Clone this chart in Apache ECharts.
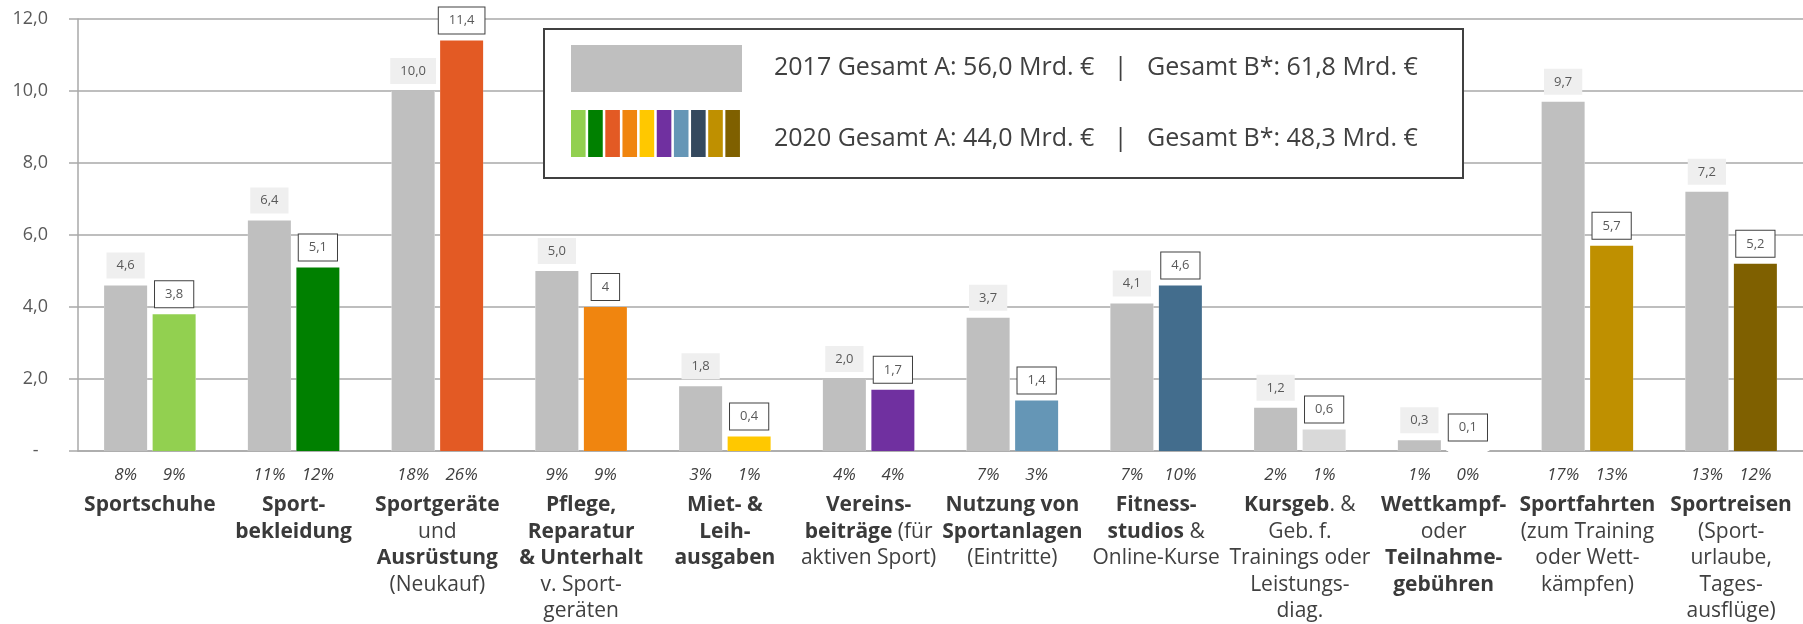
<!DOCTYPE html>
<html>
<head>
<meta charset="utf-8">
<script src="https://cdn.jsdelivr.net/npm/echarts@6/dist/echarts.min.js"></script>
<style>
html,body{margin:0;padding:0;background:#fff;}
#chart{width:1803px;height:624px;}
</style>
</head>
<body>
<div id="chart"></div>
<script>
// ---- data ----
const categories = ['Sportschuhe','Sportbekleidung','Sportgeräte und Ausrüstung','Pflege, Reparatur & Unterhalt','Miet- & Leihausgaben','Vereinsbeiträge','Nutzung von Sportanlagen','Fitnessstudios & Online-Kurse','Kursgebühren','Wettkampf-/Teilnahmegebühren','Sportfahrten','Sportreisen'];
const categoryLabels = [
  '**Sportschuhe**',
  '**Sport-**\n**bekleidung**',
  '**Sportgeräte**\nund\n**Ausrüstung**\n(Neukauf)',
  '**Pflege,**\n**Reparatur**\n**& Unterhalt**\nv. Sport-\ngeräten',
  '**Miet- &**\n**Leih-**\n**ausgaben**',
  '**Vereins-**\n**beiträge** (für\naktiven Sport)',
  '**Nutzung von**\n**Sportanlagen**\n(Eintritte)',
  '**Fitness-**\n**studios** &\nOnline-Kurse',
  '**Kursgeb**. &\nGeb. f.\nTrainings oder\nLeistungs-\ndiag.',
  '**Wettkampf-**\noder\n**Teilnahme-**\n**gebühren**',
  '**Sportfahrten**\n(zum Training\noder Wett-\nkämpfen)',
  '**Sportreisen**\n(Sport-\nurlaube,\nTages-\nausflüge)'
];
const values2017 = [4.6, 6.4, 10.0, 5.0, 1.8, 2.0, 3.7, 4.1, 1.2, 0.3, 9.7, 7.2];
const values2020 = [3.8, 5.1, 11.4, 4, 0.4, 1.7, 1.4, 4.6, 0.6, 0.1, 5.7, 5.2];
const share2017 = [8, 11, 18, 9, 3, 4, 7, 7, 2, 1, 17, 13];
const share2020 = [9, 12, 26, 9, 1, 4, 3, 10, 1, 0, 13, 12];
const color2017 = '#bfbfbf';
const colors2020 = ['#92d050','#008000','#e35a24','#f0850f','#ffc800','#7030a0','#6596b6','#436d8d','#d9d9d9','#ffffff','#bf9000','#7f6000'];
const legendStripes = ['#92d050','#008000','#e35a24','#f0850f','#ffc800','#7030a0','#6596b6','#34495e','#bf9000','#7f6000'];
const legendYears = ['2017', '2020'];
const totalA = ['56,0', '44,0'];
const totalB = ['61,8', '48,3'];
const yMin = 0, yMax = 12, yStep = 2;

// ---- helpers ----
const FONT = '"Open Sans", "Noto Sans", sans-serif';
function fmt1(v) { return v.toFixed(1).replace('.', ','); }
function toRich(s) {
  return s.split('\n').map(function (line) {
    let out = '', last = 0, m;
    const re = /\*\*(.+?)\*\*/g;
    while ((m = re.exec(line))) {
      if (m.index > last) out += '{n|' + line.slice(last, m.index) + '}';
      out += '{b|' + m[1] + '}';
      last = re.lastIndex;
    }
    if (last < line.length) out += '{n|' + line.slice(last) + '}';
    return out;
  }).join('\n');
}

const gridColor = '#a9a9a9';
const barW = 43;
const barGap = '12.8%';

const labelCommon = {
  show: true, position: 'top', distance: 7,
  fontSize: 13, lineHeight: 14, fontFamily: FONT, color: '#595959',
  padding: [6, 10, 6, 10]
};

// legend graphic
const legendGraphic = [
  { type: 'rect', shape: { x: 544, y: 29, width: 919, height: 149 },
    style: { fill: '#fff', stroke: '#404040', lineWidth: 2 }, z: 100 },
  { type: 'rect', shape: { x: 571, y: 45, width: 171, height: 47 },
    style: { fill: color2017 }, z: 101 }
];
legendStripes.forEach(function (c, i) {
  legendGraphic.push({ type: 'rect', shape: { x: 571 + i * 17.15, y: 110, width: 14.6, height: 47 },
    style: { fill: c }, z: 101 });
});
legendYears.forEach(function (yr, i) {
  legendGraphic.push({ type: 'text', x: 774, y: i === 0 ? 68 : 139, z: 101,
    style: { text: yr + ' Gesamt A: ' + totalA[i] + ' Mrd. €   |   Gesamt B*: ' + totalB[i] + ' Mrd. €',
      fontSize: 25, fontFamily: FONT, fill: '#404040', verticalAlign: 'middle', align: 'left' } });
});

// white halo behind bars (hides grid lines next to bars, like the original)
function haloSeries(values) {
  return {
    type: 'bar', xAxisIndex: 1, data: values, barWidth: barW, barGap: barGap,
    silent: true, clip: false, z: 1,
    itemStyle: { color: '#fff', borderColor: '#fff', borderWidth: 9 },
    label: { show: false }
  };
}

const chart = echarts.init(document.getElementById('chart'), null, { renderer: 'canvas' });
chart.setOption({
  animation: false,
  backgroundColor: '#fff',
  grid: { left: 78, right: 0, top: 19, bottom: 173, containLabel: false },
  xAxis: [{
    type: 'category',
    data: categories,
    axisLine: { show: true, lineStyle: { color: gridColor, width: 1.5 } },
    axisTick: { show: false },
    axisLabel: {
      interval: 0, margin: 7,
      formatter: function (v, i) {
        return '{p|' + share2017[i] + '%}{p|' + share2020[i] + '%}\n' + toRich(categoryLabels[i]);
      },
      rich: {
        p: { fontSize: 17, fontStyle: 'italic', fontFamily: FONT, color: '#404040', width: 48.5, align: 'center', lineHeight: 34 },
        b: { fontSize: 21, fontWeight: 'bold', fontFamily: FONT, color: '#3a3a3a', lineHeight: 26.5, align: 'center' },
        n: { fontSize: 21, fontFamily: FONT, color: '#404040', lineHeight: 26.5, align: 'center' }
      }
    }
  }, {
    type: 'category', data: categories, show: false
  }],
  yAxis: {
    type: 'value', min: yMin, max: yMax, interval: yStep,
    axisLine: { show: true, lineStyle: { color: gridColor, width: 1.5 } },
    axisTick: { show: true, length: 9, lineStyle: { color: gridColor, width: 1.5 } },
    splitLine: { show: true, lineStyle: { color: gridColor, width: 1.5 } },
    axisLabel: {
      margin: 30, fontSize: 18, fontFamily: FONT, color: '#595959',
      formatter: function (v) { return v === 0 ? '-  ' : fmt1(v); }
    }
  },
  series: [
    {
      name: '2017', type: 'bar', data: values2017, barWidth: barW, barGap: barGap, z: 3,
      itemStyle: { color: color2017 },
      label: Object.assign({}, labelCommon, {
        backgroundColor: '#efefef',
        formatter: function (p) { return fmt1(p.value); }
      })
    },
    {
      name: '2020', type: 'bar', barWidth: barW, z: 3,
      data: values2020.map(function (v, i) { return { value: v, itemStyle: { color: colors2020[i] } }; }),
      label: Object.assign({}, labelCommon, {
        backgroundColor: '#fff', borderColor: '#404040', borderWidth: 1,
        formatter: function (p) { return Number.isInteger(p.value) ? String(p.value) : fmt1(p.value); }
      })
    },
    haloSeries(values2017),
    haloSeries(values2020)
  ],
  graphic: legendGraphic
});
</script>
</body>
</html>
